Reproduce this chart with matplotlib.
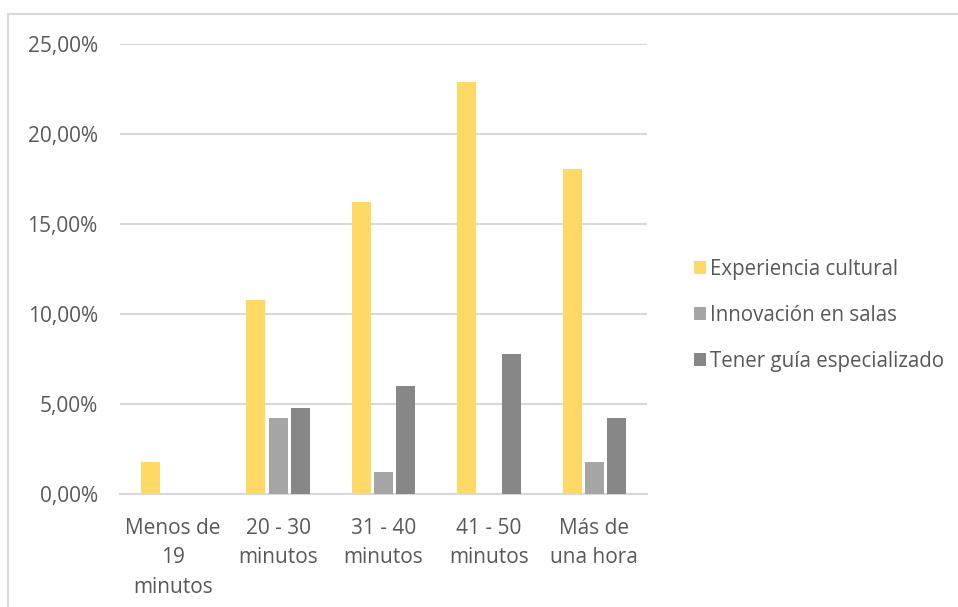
import numpy as np
import matplotlib
matplotlib.use("Agg")
import matplotlib.pyplot as plt
from matplotlib.patches import Rectangle
from matplotlib.ticker import FuncFormatter

# Data (percent)
categories = ["Menos de\n19\nminutos", "20 - 30\nminutos", "31 - 40\nminutos",
              "41 - 50\nminutos", "Más de\nuna hora"]
series_names = ["Experiencia cultural", "Innovación en salas",
                "Tener guía especializado"]
experiencia = [1.8, 10.8, 16.2, 22.9, 18.05]
innovacion = [0.0, 4.2, 1.2, 0.0, 1.8]
guia = [0.0, 4.8, 6.0, 7.8, 4.2]
yticks = [0, 5, 10, 15, 20, 25]

colors = ["#FFD966", "#A5A5A5", "#878787"]
text_color = "#595959"

plt.rcParams['font.family'] = ['Open Sans', 'DejaVu Sans']

fig = plt.figure(figsize=(9.58, 6.07), dpi=100)
ax = fig.add_axes([120 / 958, 1 - 494 / 607, 527 / 958, 450 / 607])

x = np.arange(len(categories))
width = 0.18
offset = 0.21
for i, (vals, name) in enumerate(zip([experiencia, innovacion, guia], series_names)):
    ax.bar(x + (i - 1) * offset, vals, width=width, color=colors[i],
           label=name, zorder=3)

ax.set_xlim(-0.5, len(categories) - 0.5)
ax.set_ylim(0, 25)
ax.set_yticks(yticks)
ax.yaxis.set_major_formatter(FuncFormatter(lambda v, p: f"{v:.2f}%".replace(".", ",")))
ax.set_xticks(x)
ax.set_xticklabels(categories, linespacing=1.55)

ax.grid(axis="y", color="#D9D9D9", lw=1.5, zorder=0)
for side in ["top", "right", "left"]:
    ax.spines[side].set_visible(False)
ax.spines["bottom"].set_color("#D9D9D9")
ax.spines["bottom"].set_linewidth(1.5)
ax.tick_params(axis="both", length=0, labelsize=15, labelcolor=text_color)
ax.tick_params(axis="y", pad=16)
ax.tick_params(axis="x", pad=17)

leg = ax.legend(loc="center left", bbox_to_anchor=(1.055, 0.397), frameon=False,
                fontsize=14.8, labelcolor=text_color, handlelength=0.55,
                handleheight=0.55, handletextpad=0.2, labelspacing=1.22)

# outer chart border (cut off at right and bottom edges)
fig.patches.append(Rectangle((8 / 958, -0.1), 1.2, 1 - 14 / 607 + 0.1,
                             transform=fig.transFigure, fill=False,
                             edgecolor="#D9D9D9", lw=1.5))

fig.savefig("out.png", dpi=100, facecolor="white")
